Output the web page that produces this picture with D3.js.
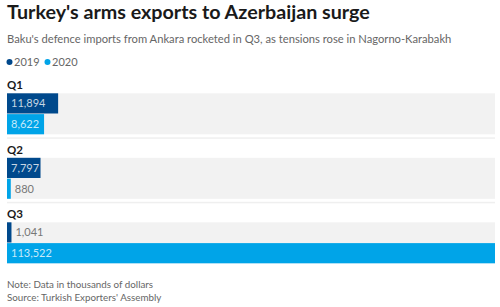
<!DOCTYPE html>
<html>
<head>
<meta charset="utf-8">
<script src="https://cdn.jsdelivr.net/npm/d3@7"></script>
<style>
  body { margin: 0; background: #fff; }
  text { font-family: Lato, "Open Sans", sans-serif; }
</style>
</head>
<body>
<script>
//chart data
var quarters = ["Q1", "Q2", "Q3"];
var years = ["2019", "2020"];
var values2019 = [11894, 7797, 1041];
var values2020 = [8622, 880, 113522];
var colors = ["#00498c", "#00a4e8"];

window.onload = drawChart();

function drawChart(){
  var width = 500,
      height = 307;

  var svg = d3.select("body")
      .append("svg")
      .attr("width", width)
      .attr("height", height);

  //title block
  svg.append("text")
      .attr("x", 7).attr("y", 19)
      .style("font-size", "19.7px").style("font-weight", 700).style("fill", "#1a1a1a")
      .text("Turkey's arms exports to Azerbaijan surge");
  svg.append("text")
      .attr("x", 7).attr("y", 43)
      .style("font-size", "11.2px").style("fill", "#666")
      .text("Baku's defence imports from Ankara rocketed in Q3, as tensions rose in Nagorno-Karabakh");

  //legend
  var legend = svg.selectAll(".legend")
      .data(years)
      .enter()
      .append("g")
      .attr("class", "legend")
      .attr("transform", function(d, i){ return "translate(" + (9.5 + i * 38) + ",62)"; });
  legend.append("circle").attr("r", 3).attr("fill", function(d, i){ return colors[i]; });
  legend.append("text").attr("x", 4.5).attr("y", 3.8)
      .style("font-size", "11px").style("fill", "#666")
      .text(function(d){ return d; });

  var x = d3.scaleLinear()
      .domain([0, d3.max(values2020.concat(values2019))])
      .range([7, 495]);

  var groupY = d3.scalePoint()
      .domain(quarters)
      .range([93.3, 222.3]);

  var barY = d3.scaleBand()
      .domain(years)
      .range([0, 41])
      .paddingInner(0.03);

  var groups = svg.selectAll(".quarter")
      .data(quarters)
      .enter()
      .append("g")
      .attr("class", "quarter")
      .attr("transform", function(d){ return "translate(0," + groupY(d) + ")"; });

  groups.append("text")
      .attr("x", 7).attr("y", -4)
      .style("font-size", "11.5px").style("font-weight", 700).style("fill", "#1a1a1a")
      .text(function(d){ return d; });

  groups.append("rect")
      .attr("x", x(0)).attr("y", 0)
      .attr("width", x.range()[1] - x(0)).attr("height", 41)
      .attr("fill", "#f2f2f2");

  groups.filter(function(d, i){ return i < quarters.length - 1; })
      .append("rect")
      .attr("x", x(0)).attr("y", 44)
      .attr("width", x.range()[1] - x(0)).attr("height", 1.5)
      .attr("fill", "#efefef");

  groups.each(function(q, qi){
    var g = d3.select(this);
    var rows = [values2019[qi], values2020[qi]];
    rows.forEach(function(v, i){
      var w = x(v) - x(0);
      g.append("rect")
          .attr("x", x(0)).attr("y", barY(years[i]))
          .attr("width", w).attr("height", barY.bandwidth())
          .attr("fill", colors[i]);
      var inside = w > 20;
      g.append("text")
          .attr("x", inside ? x(0) + 4 : x(v) + 4)
          .attr("y", barY(years[i]) + barY.bandwidth() / 2 + 4)
          .style("font-size", "11px")
          .style("fill", inside ? "rgba(255,255,255,0.78)" : "#777")
          .text(d3.format(",")(v));
    });
  });

  //footnotes
  svg.append("text")
      .attr("x", 7).attr("y", 288)
      .style("font-size", "9.8px").style("fill", "#666")
      .text("Note: Data in thousands of dollars");
  svg.append("text")
      .attr("x", 7).attr("y", 301)
      .style("font-size", "9.8px").style("fill", "#666")
      .text("Source: Turkish Exporters' Assembly");
}
</script>
</body>
</html>
